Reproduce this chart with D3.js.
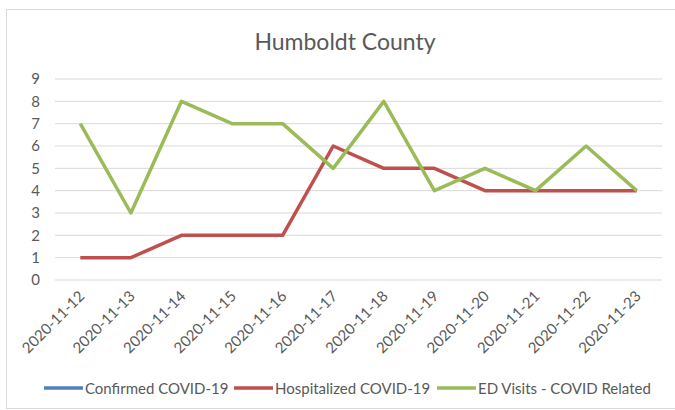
<!DOCTYPE html>
<html>
<head>
<meta charset="utf-8">
<script src="https://cdn.jsdelivr.net/npm/d3@7"></script>
<style>
  body { margin: 0; background: #fff; }
  svg text { font-family: Lato, "Open Sans", sans-serif; fill: #595959; }
</style>
</head>
<body>
<svg id="chart" width="675" height="410"></svg>
<script>
const dates = ["2020-11-12", "2020-11-13", "2020-11-14", "2020-11-15", "2020-11-16", "2020-11-17",
  "2020-11-18", "2020-11-19", "2020-11-20", "2020-11-21", "2020-11-22", "2020-11-23"]
const confirmed = []
const hospitalized = [1, 1, 2, 2, 2, 6, 5, 5, 4, 4, 4, 4]
const edVisits = [7, 3, 8, 7, 7, 5, 8, 4, 5, 4, 6, 4]
const yTicks = [0, 1, 2, 3, 4, 5, 6, 7, 8, 9]
const seriesNames = ["Confirmed COVID-19", "Hospitalized COVID-19", "ED Visits - COVID Related"]
const seriesColors = ["#4F81BD", "#C0504D", "#9BBB59"]

const svg = d3.select("#chart")

// chart frame
svg.append("rect")
  .attr("x", 6.5).attr("y", 9.5)
  .attr("width", 675).attr("height", 399)
  .attr("fill", "none").attr("stroke", "#d9d9d9")

let margin = {top: 79, right: 13, bottom: 130, left: 55}
  , width = 675 - margin.left - margin.right
  , height = 410 - margin.top - margin.bottom

let xScale = d3.scaleBand()
  .domain(dates)
  .range([0, width])

let yScale = d3.scaleLinear()
  .domain([0, 9])
  .range([height, 0])

let g = svg.append("g")
  .attr("transform", "translate(" + margin.left + "," + margin.top + ")")

// gridlines
g.append("g")
  .selectAll("line")
  .data(yTicks)
  .enter().append("line")
  .attr("x1", 0).attr("x2", width)
  .attr("y1", d => yScale(d)).attr("y2", d => yScale(d))
  .attr("stroke", "#d9d9d9").attr("stroke-width", 1)

// y axis labels
let yAxis = g.append("g")
  .call(d3.axisLeft(yScale).tickValues(yTicks).tickSize(0).tickPadding(15))
yAxis.select(".domain").remove()
yAxis.selectAll("text").style("font-size", "15px").attr("fill", "#595959")

// x axis labels
let xAxis = g.append("g")
  .attr("transform", "translate(0," + height + ")")
  .call(d3.axisBottom(xScale).tickSize(0))
xAxis.select(".domain").remove()
xAxis.selectAll("text")
  .style("font-size", "15px")
  .attr("fill", "#595959")
  .attr("text-anchor", "end")
  .attr("dy", 0)
  .attr("transform", "translate(3,15) rotate(-45)")

// title
svg.append("text")
  .attr("x", 345).attr("y", 50)
  .attr("text-anchor", "middle")
  .style("font-size", "23px")
  .text("Humboldt County")

let line = d3.line()
  .x((d, i) => xScale(dates[i]) + xScale.bandwidth() / 2)
  .y(d => yScale(d))

const allSeries = [confirmed, hospitalized, edVisits]
allSeries.forEach((s, i) => {
  if (!s.length) return
  g.append("path")
    .datum(s)
    .attr("fill", "none")
    .attr("stroke", seriesColors[i])
    .attr("stroke-width", 3.5)
    .attr("stroke-linejoin", "round")
    .attr("d", line)
})

// legend
let legendX = [44, 234, 437]
let legend = svg.append("g").attr("transform", "translate(0,388)")
seriesNames.forEach((name, i) => {
  legend.append("line")
    .attr("x1", legendX[i]).attr("x2", legendX[i] + 39)
    .attr("y1", 0).attr("y2", 0)
    .attr("stroke", seriesColors[i]).attr("stroke-width", 3.5)
  legend.append("text")
    .attr("x", legendX[i] + 41).attr("y", 5.5)
    .style("font-size", "15px")
    .text(name)
})
</script>
</body>
</html>
